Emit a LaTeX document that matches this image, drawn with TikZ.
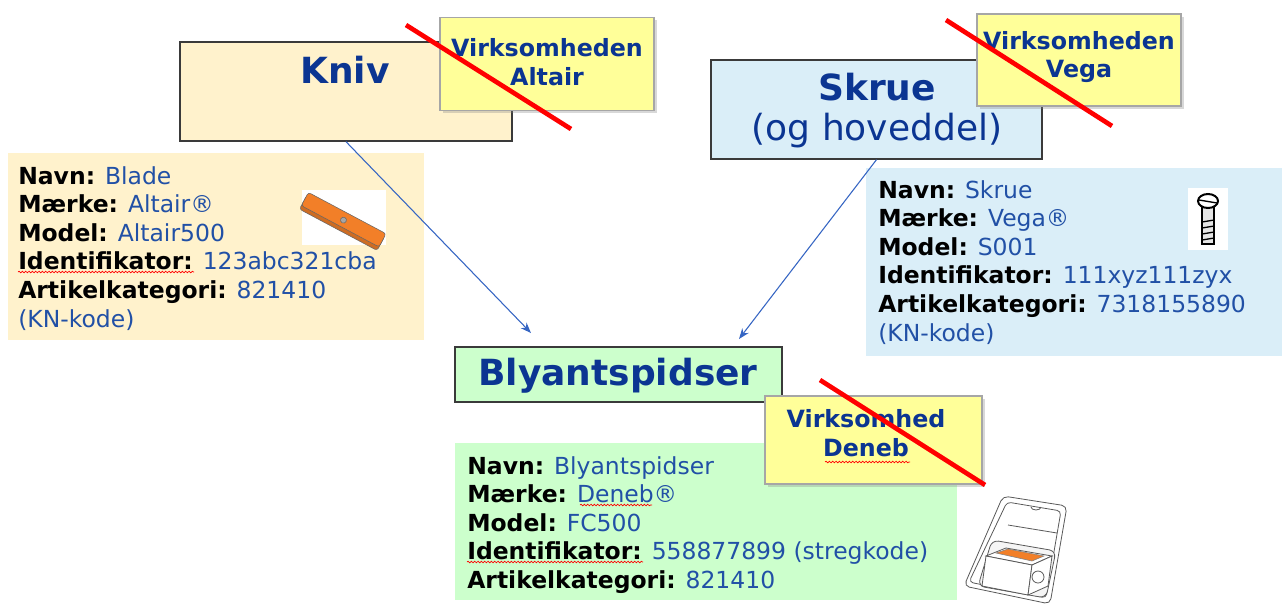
\documentclass[tikz,border=0pt]{standalone}
\usepackage{fontspec}
\setmainfont{DejaVu Sans}
\usetikzlibrary{positioning,arrows.meta,shadows,decorations.pathmorphing}

\definecolor{knivfill}{HTML}{FFF2CC}
\definecolor{skruefill}{HTML}{DAEEF8}
\definecolor{blyantfill}{HTML}{CCFFCC}
\definecolor{notefill}{HTML}{FFFF99}
\definecolor{notegray}{HTML}{A6A6A6}
\definecolor{boxline}{HTML}{3A3A3A}
\definecolor{titleblue}{HTML}{0B3592}
\definecolor{valblue}{HTML}{2150A6}
\definecolor{arrowblue}{HTML}{3565C3}
\definecolor{bladeorange}{HTML}{F27F28}

\tikzset{
  itembox/.style={draw=boxline, line width=1pt, inner sep=0pt},
  note/.style={draw=notegray, line width=1pt, fill=notefill, inner sep=0pt,
    drop shadow={shadow xshift=2pt, shadow yshift=-2pt, opacity=0.3}},
  cross/.style={draw=red, line width=3.5pt},
  conn/.style={-{Stealth[length=8pt,width=6pt]}, draw=arrowblue, line width=0.8pt},
  title/.style={font=\bfseries\fontsize{27}{30}\selectfont, text=titleblue, align=center},
  notetext/.style={font=\bfseries\fontsize{17.8}{21.5}\selectfont, text=titleblue, align=center},
  info/.style={font=\fontsize{17.6}{21.45}\selectfont, align=left, anchor=north west, inner sep=0pt},
  spell/.style={draw=red, line width=0.5pt, decorate, decoration={snake, amplitude=0.6pt, segment length=2.5pt}},
  sketch/.style={draw=black!65, line width=0.6pt}
}
\newcommand\lbl[1]{\textbf{#1}}
\newcommand\val[1]{\textcolor{valblue}{#1}}

\begin{document}
\begin{tikzpicture}[x=0.75pt, y=-0.75pt]
    \useasboundingbox (0,0) rectangle (1282,608);
    \fill[white] (0,0) rectangle (1282,608);

    \node[itembox, fill=knivfill, minimum width=249pt, minimum height=74.25pt] (kniv) at (346,91.5) {};
    \node[title] (knivtitle) at (345,70) {Kniv};
    \node[itembox, fill=skruefill, minimum width=248.25pt, minimum height=74.25pt] (skrue) at (876.5,109.5) {};
    \node[title] (skruetitle) at (877,111) {Skrue\\{\mdseries (og hoveddel)}};
    \node[itembox, fill=blyantfill, minimum width=245.25pt, minimum height=41.25pt] (blyant) at (618.5,374.5) {};
    \node[title] (blyanttitle) at (618,376) {Blyantspidser};

    \fill[knivfill] (8,153) rectangle (424,340);
    \fill[skruefill] (866,168) rectangle (1282,356);
    \fill[blyantfill] (455,443) rectangle (957,600);

    \node[info] (knivinfo) at (18,166) {\lbl{Navn:} \val{Blade}\\\lbl{Mærke:} \val{Altair®}\\\lbl{Model:} \val{Altair500}\\
        \lbl{Identifikator:} \val{123abc321cba}\\\lbl{Artikelkategori:} \val{821410}\\\val{(KN-kode)}};
    \node[info] (skrueinfo) at (878,180) {\lbl{Navn:} \val{Skrue}\\\lbl{Mærke:} \val{Vega®}\\\lbl{Model:} \val{S001}\\
        \lbl{Identifikator:} \val{111xyz111zyx}\\\lbl{Artikelkategori:} \val{7318155890}\\\val{(KN-kode)}};
    \node[info] (blyantinfo) at (467,456) {\lbl{Navn:} \val{Blyantspidser}\\\lbl{Mærke:} \val{Deneb®}\\\lbl{Model:} \val{FC500}\\
        \lbl{Identifikator:} \val{558877899 (stregkode)}\\\lbl{Artikelkategori:} \val{821410}};
    \draw[spell] (18,272) -- (194,272);
    \draw[spell] (467,562) -- (643,562);
    \draw[spell] (580,505) -- (652,505);

    \node[note, minimum width=160.5pt, minimum height=69.75pt] (altair) at (547,64) {};
    \node[notetext] (altairtext) at (547,62) {Virksomheden\\Altair};
    \node[note, minimum width=153pt, minimum height=69pt] (vega) at (1079,60) {};
    \node[notetext] (vegatext) at (1079,57) {Virksomheden\\Vega};
    \node[note, minimum width=162.75pt, minimum height=66pt] (deneb) at (873.5,440) {};
    \node[notetext] (denebtext) at (866,433) {Virksomhed\\Deneb};
    \draw[spell] (825,462) -- (910,462);

    \draw[cross] (406,25) -- (571,129);
    \draw[cross] (946,20) -- (1112,126);
    \draw[cross] (820,380) -- (985,485);

    \coordinate (knivend) at (531,333);
    \coordinate (skrueend) at (739,339);
    \draw[conn] (kniv.south) -- (knivend);
    \draw[conn] (skrue.south) -- (skrueend);

    \fill[white] (302,190) rectangle (386,245);
    \begin{scope}[shift={(343,221)}, rotate=-28]
        \draw[draw=black!60, fill=bladeorange!85!black, rounded corners=2pt] (-44,-6) -- (44,-6) -- (44,10) -- (-44,10) -- cycle;
        \draw[draw=black!60, fill=bladeorange, rounded corners=2pt] (-44,-9) -- (44,-9) -- (44,6) -- (-44,6) -- cycle;
        \draw[fill=black!35, draw=black!60] (0,-1) circle (3);
    \end{scope}

    \fill[white] (1188,188) rectangle (1228,250);
    \draw[line width=1.2pt, fill=black!10] (1202,207) rectangle (1214,244);
    \foreach \ty in {222,228,...,240}
        \draw[line width=1pt] (1202,\ty) -- (1214,\ty-2);
    \draw[line width=1.5pt, fill=white] (1208,201) ellipse (10 and 7);
    \draw[line width=1pt] (1199,200) -- (1217,203);

    \draw[sketch, rounded corners=4pt] (1003,496) -- (1067,506) -- (1050,604) -- (964,586) -- cycle;
    \draw[sketch, rounded corners=3pt] (1007,502) -- (1061,511) -- (1046,598) -- (969,582) -- cycle;
    \draw[sketch] (1031,507) arc (180:0:5 and 3);
    \draw[sketch] (1008,525) -- (1057,533);
    \draw[sketch, fill=black!4, rounded corners=5pt] (992,540) -- (1056,551) -- (1046,598) -- (978,586) -- cycle;
    \draw[sketch, fill=white] (986,556) -- (1006,548) -- (1052,556) -- (1032,565) -- cycle;
    \draw[sketch, fill=white] (986,556) -- (1032,565) -- (1028,595) -- (982,586) -- cycle;
    \draw[sketch, fill=white] (1032,565) -- (1052,556) -- (1048,586) -- (1028,595) -- cycle;
    \draw[draw=black!50, fill=bladeorange] (996,553) -- (1008,549) -- (1044,556) -- (1032,561) -- cycle;
    \draw[sketch] (1038,577) circle (6);
\end{tikzpicture}
\end{document}
